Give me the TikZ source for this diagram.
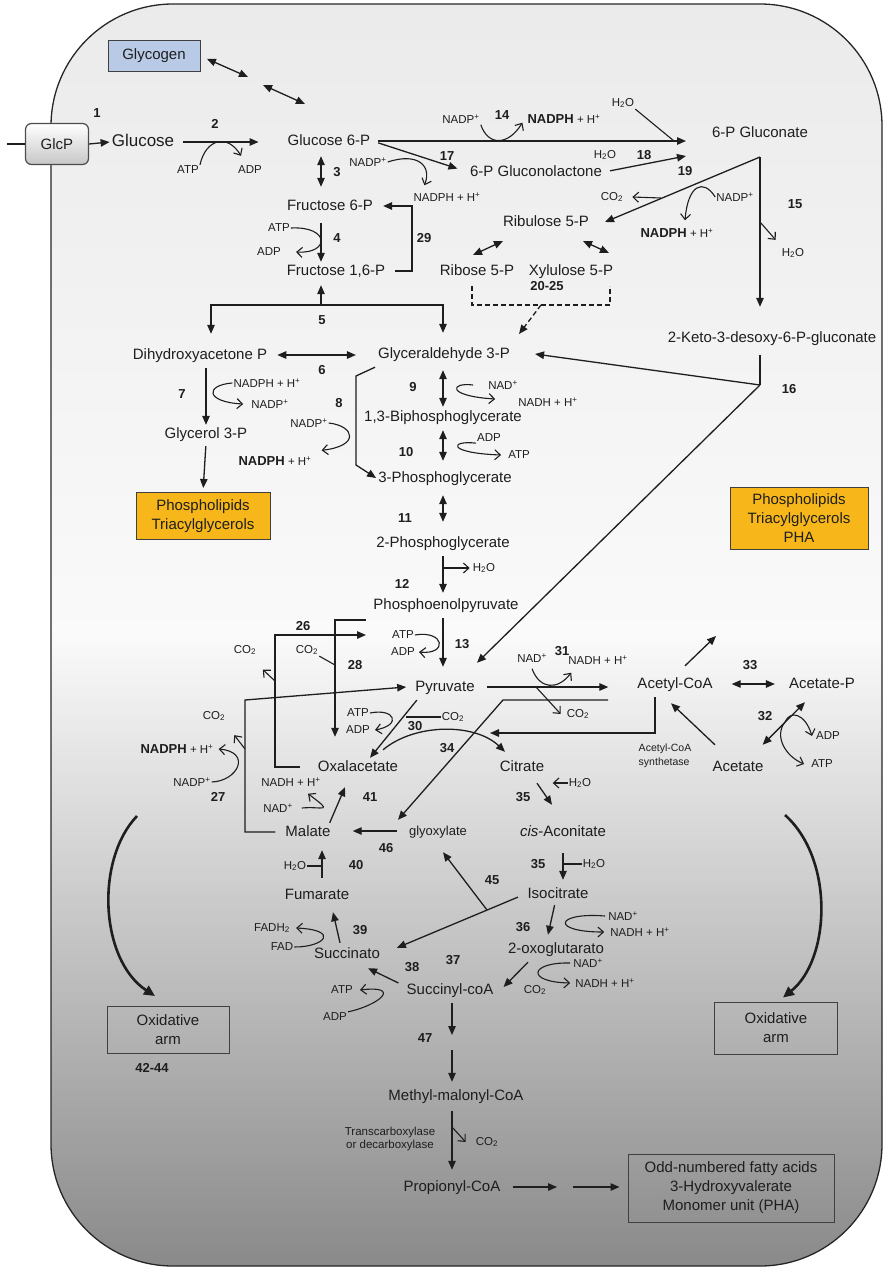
\documentclass[tikz,border=0pt]{standalone}
\usepackage{fontspec}
\setmainfont{Liberation Sans}
\usetikzlibrary{arrows.meta}
\definecolor{lipid}{HTML}{F7B71B}
\definecolor{glyco}{HTML}{B8CAE6}
\definecolor{ink}{HTML}{1E1E1E}
\newcommand{\nadphb}{{\bfseries\fontsize{13}{15}\selectfont NADPH} + H\textsuperscript{+}}
\tikzset{
  met/.style={font=\fontsize{15}{17}\selectfont, text height=11pt, text depth=3pt, inner sep=2pt},
  cof/.style={font=\fontsize{11.5}{13}\selectfont, inner sep=1pt},
  num/.style={font=\bfseries\fontsize{13}{15}\selectfont, inner sep=1pt},
  prod/.style={draw=black!75, line width=1pt, inner sep=2pt, align=center, font=\fontsize{15}{19}\selectfont},
  glcpbox/.style={draw=black!70, line width=1.2pt, rounded corners=6pt, top color=white, bottom color=black!22, minimum width=63pt, minimum height=41pt, font=\fontsize{15}{17}\selectfont},
  rx/.style={draw=ink, line width=1.3pt, -{Triangle[length=9pt,width=7.5pt]}},
  rxx/.style={draw=ink, line width=1.3pt, {Triangle[length=9pt,width=7.5pt]}-{Triangle[length=9pt,width=7.5pt]}},
  co/.style={draw=ink, line width=1.1pt, -{Straight Barb[length=5.5pt,width=10pt]}},
  ln/.style={draw=ink, line width=1.1pt},
  oxarrow/.style={draw=ink, line width=2.6pt, -{Triangle[length=11pt,width=10pt]}}
}
\begin{document}
\begin{tikzpicture}[x=1pt, y=-1pt, every node/.append style={text=ink}]
\useasboundingbox (0,0) rectangle (885,1269);
\draw[line width=1.3pt, draw=black!85, rounded corners=122pt, top color=black!8, bottom color=black!46, middle color=black!2] (51,4) rectangle (882,1266);

% metabolites
\node[glcpbox] (glcp) at (57,144) {GlcP};
\node[prod, fill=glyco, minimum width=92pt, minimum height=31pt] (glycogen) at (154,56) {Glycogen};
\node[met, font=\fontsize{17}{19}\selectfont] (glc) at (143,142) {Glucose};
\node[met] (g6p) at (329,141) {Glucose 6-P};
\node[met] (f6p) at (330,206) {Fructose 6-P};
\node[met] (fbp) at (336,271) {Fructose 1,6-P};
\node[met] (gln) at (536,172) {6-P Gluconolactone};
\node[met] (pgn) at (760,133) {6-P Gluconate};
\node[met] (ru5p) at (546,222) {Ribulose 5-P};
\node[met] (r5p) at (477,271) {Ribose 5-P};
\node[met] (x5p) at (571,271) {Xylulose 5-P};
\node[met] (kdpg) at (772,338) {2-Keto-3-desoxy-6-P-gluconate};
\node[met] (dhap) at (200,355) {Dihydroxyacetone P};
\node[met] (gap) at (444,354) {Glyceraldehyde 3-P};
\node[met] (gro) at (206,434) {Glycerol 3-P};
\node[met] (bpg) at (443,417) {1,3-Biphosphoglycerate};
\node[met] (pga3) at (445,478) {3-Phosphoglycerate};
\node[met] (pga2) at (443,543) {2-Phosphoglycerate};
\node[met] (pep) at (446,605) {Phosphoenolpyruvate};
\node[met] (pyr) at (445,687) {Pyruvate};
\node[met] (accoa) at (675,684) {Acetyl-CoA};
\node[met] (acp) at (822,684) {Acetate-P};
\node[met] (ace) at (738,767) {Acetate};
\node[met] (oaa) at (358,767) {Oxalacetate};
\node[met] (cit) at (522,767) {Citrate};
\node[met] (mal) at (308,832) {Malate};
\node[met, font=\fontsize{13}{15}\selectfont] (glx) at (438,831) {glyoxylate};
\node[met] (cis) at (563,832) {\textit{cis}-Aconitate};
\node[met] (fum) at (317,895) {Fumarate};
\node[met] (icit) at (558,894) {Isocitrate};
\node[met] (suc) at (347,954) {Succinato};
\node[met] (akg) at (556,949) {2-oxoglutarato};
\node[met] (scoa) at (450,990) {Succinyl-coA};
\node[met] (mmcoa) at (456,1096) {Methyl-malonyl-CoA};
\node[met] (ppcoa) at (452,1187) {Propionyl-CoA};

\node[prod, fill=lipid, minimum width=134pt, minimum height=47pt] (lipa) at (203,516) {Phospholipids\\Triacylglycerols};
\node[prod, fill=lipid, minimum width=138pt, minimum height=62pt] (lipb) at (799,518) {Phospholipids\\Triacylglycerols\\PHA};
\node[prod, minimum width=122pt, minimum height=47pt] (oxl) at (168,1030) {Oxidative\\arm};
\node[prod, minimum width=123pt, minimum height=52pt] (oxr) at (776,1028) {Oxidative\\arm};
\node[prod, minimum width=206pt, minimum height=68pt] (odd) at (731,1188) {Odd-numbered fatty acids\\3-Hydroxyvalerate\\Monomer unit (PHA)};

% cofactors
\node[cof] (atp2) at (188,170) {ATP};
\node[cof] (adp2) at (250,170) {ADP};
\node[cof] (atp4) at (279,228) {ATP};
\node[cof] (adp4) at (269,252) {ADP};
\node[cof] (nadp17) at (368,162) {NADP\textsuperscript{+}};
\node[cof] (nadph17) at (447,197) {NADPH + H\textsuperscript{+}};
\node[cof] (nadp14) at (461,119) {NADP\textsuperscript{+}};
\node[cof] (nadph14) at (564,119) {\nadphb};
\node[cof] (h2o14) at (623,103) {H\textsubscript{2}O};
\node[cof] (h2o18) at (605,155) {H\textsubscript{2}O};
\node[cof] (co2a) at (612,197) {CO\textsubscript{2}};
\node[cof] (nadp19) at (735,197) {NADP\textsuperscript{+}};
\node[cof] (nadph19) at (677,233) {\nadphb};
\node[cof] (h2o15) at (793,253) {H\textsubscript{2}O};
\node[cof] (nadph7) at (267,383) {NADPH + H\textsuperscript{+}};
\node[cof] (nadp7) at (270,404) {NADP\textsuperscript{+}};
\node[cof] (nadp8) at (309,423) {NADP\textsuperscript{+}};
\node[cof] (nadph8) at (275,461) {\nadphb};
\node[cof] (nad9) at (503,385) {NAD\textsuperscript{+}};
\node[cof] (nadh9) at (548,402) {NADH + H\textsuperscript{+}};
\node[cof] (adp10) at (489,438) {ADP};
\node[cof] (atp10) at (519,455) {ATP};
\node[cof] (h2o12) at (484,568) {H\textsubscript{2}O};
\node[cof] (atp13) at (403,635) {ATP};
\node[cof] (adp13) at (403,652) {ADP};
\node[cof] (co2b) at (245,650) {CO\textsubscript{2}};
\node[cof] (co2c) at (307,650) {CO\textsubscript{2}};
\node[cof] (co2d) at (214,716) {CO\textsubscript{2}};
\node[cof] (nadph27) at (177,749) {\nadphb};
\node[cof] (nadp27) at (192,782) {NADP\textsuperscript{+}};
\node[cof] (atp30) at (358,713) {ATP};
\node[cof] (adp30) at (358,730) {ADP};
\node[cof] (co2e) at (453,717) {CO\textsubscript{2}};
\node[cof] (nad31) at (532,658) {NAD\textsuperscript{+}};
\node[cof] (nadh31) at (598,660) {NADH + H\textsuperscript{+}};
\node[cof] (co2f) at (578,714) {CO\textsubscript{2}};
\node[cof] (adp32) at (828,736) {ADP};
\node[cof] (atp32) at (822,764) {ATP};
\node[cof] (nadh41) at (291,782) {NADH + H\textsuperscript{+}};
\node[cof] (nad41) at (278,808) {NAD\textsuperscript{+}};
\node[cof] (h2o35a) at (580,783) {H\textsubscript{2}O};
\node[cof] (h2o35b) at (594,864) {H\textsubscript{2}O};
\node[cof] (h2o40) at (295,866) {H\textsubscript{2}O};
\node[cof] (fadh) at (272,928) {FADH\textsubscript{2}};
\node[cof] (fad) at (282,947) {FAD};
\node[cof] (nad36) at (623,916) {NAD\textsuperscript{+}};
\node[cof] (nadh36) at (640,932) {NADH + H\textsuperscript{+}};
\node[cof] (nad37) at (588,963) {NAD\textsuperscript{+}};
\node[cof] (nadh37) at (605,983) {NADH + H\textsuperscript{+}};
\node[cof] (co2g) at (535,990) {CO\textsubscript{2}};
\node[cof] (atp38) at (342,990) {ATP};
\node[cof] (adp38) at (335,1017) {ADP};
\node[cof] (co2h) at (487,1142) {CO\textsubscript{2}};
\node[cof, align=center] (tcx) at (390,1139) {Transcarboxylase\\or decarboxylase};
\node[cof, font=\fontsize{10.5}{14}\selectfont, align=left] (acs) at (665,756) {Acetyl-CoA\\synthetase};

% reaction numbers
\foreach \t/\x/\y [count=\i] in {1/97/113, 2/215/124, 3/337/172, 4/337/238, 5/322/320, 6/322/370,
  7/182/394, 8/339/403, 9/413/387, 10/406/452, 11/405/518, 12/402/584, 13/462/644, 14/502/115,
  15/795/204, 16/789/389, 17/447/156, 18/644/155, 19/685/171, 20-25/547/286, 26/303/626,
  27/218/797, 28/355/665, 29/424/238, 30/415/726, 31/562/651, 32/765/716, 33/750/665,
  34/447/748, 35/523/797, 35/538/864, 36/523/927, 37/453/960, 38/412/967, 39/360/930,
  40/356/865, 41/370/797, 42-44/152/1068, 45/492/880, 46/386/848, 47/425/1038}
  \node[num] (num\i) at (\x,\y) {\t};

% junctions and free ends
\coordinate (cin) at (7,144);
\coordinate (gy1) at (248,77);
\coordinate (gy2) at (263,85);
\coordinate (gy3) at (305,104);
\coordinate (c29) at (412,240);
\coordinate (t14) at (686,141);
\coordinate (t18) at (686,156);
\coordinate (j19) at (760,157);
\coordinate (t19) at (605,222);
\coordinate (c19) at (661,198);
\coordinate (j15) at (760,222);
\coordinate (p1) at (473,255);
\coordinate (p2) at (503,241);
\coordinate (p3) at (583,241);
\coordinate (p4) at (609,253);
\coordinate (d1) at (472,286);
\coordinate (d2) at (610,286);
\coordinate (d3) at (541,305);
\coordinate (t20) at (519,334);
\coordinate (j16) at (760,385);
\coordinate (j5) at (321,305);
\coordinate (b8) at (356,376);
\coordinate (b8b) at (356,465);
\coordinate (c26) at (275,635);
\coordinate (t26) at (366,635);
\coordinate (c26b) at (275,681);
\coordinate (c28) at (366,620);
\coordinate (c28b) at (335,665);
\coordinate (c27) at (245,700);
\coordinate (c27b) at (245,749);
\coordinate (c30) at (406,717);
\coordinate (c31) at (536,687);
\coordinate (c46a) at (608,700);
\coordinate (c46b) at (503,700);
\coordinate (t34) at (490,733);
\coordinate (t35) at (716,636);
\coordinate (c32) at (785,722);
\coordinate (c40) at (322,866);
\coordinate (j45) at (487,910);
\coordinate (c47) at (452,1043);
\coordinate (c48) at (452,1127);
\coordinate (c49) at (565,1187);
\coordinate (oxa) at (137,816);
\coordinate (oxb) at (785,815);

% uptake, glycogen
\draw[ln, line width=1.2pt] (cin) -- (glcp.west);
\draw[rx] (glcp.east) -- (glc.west);
\draw[rxx, shorten <=7pt] (glycogen.east) -- (gy1);
\draw[rxx] (gy2) -- (gy3);

% upper glycolysis
\draw[rx, shorten <=7pt, shorten >=27pt] (glc.east) -- (glc.east -| g6p.west);
\draw[co] (atp2.north east) .. controls (206,138) and (228,134) .. ([shift={(-9pt,9pt)}]adp2.north);
\draw[rxx, shorten <=6pt, shorten >=10pt] ([xshift=-8pt]g6p.south) -- ([xshift=-9pt]f6p.north);
\draw[rx, shorten <=8pt] ([xshift=-9pt]f6p.south) -- ([xshift=-15pt]fbp.north);
\draw[co] (atp4.east) .. controls (330,226) and (330,254) .. ([xshift=14pt]adp4.east);
\draw[rx, shorten <=8pt, shorten >=8pt] (fbp.east) -| (c29) |- (f6p.east);

% pentose phosphate and Entner-Doudoroff
\draw[rx, shorten <=6pt, shorten >=11pt] (g6p.east) -- (gln.west);
\draw[co] (nadp17.east) .. controls (418,152) and (432,166) .. ([shift={(12pt,6pt)}]nadph17.north west);
\draw[rx, shorten <=6pt] (g6p.east) -- (t14);
\draw[ln] (h2o14.south east) -- ([xshift=-12pt]t14);
\draw[co] (nadp14.south east) .. controls (488,146) and (508,146) .. ([shift={(-4pt,2pt)}]nadph14.south west);
\draw[rx, shorten <=6pt] (gln.east) -- (t18);
\draw[rx, shorten >=22pt] (j19) -- (j19 |- kdpg.north);
\draw[rx] (j19) -- (t19);
\draw[co] (c19) -- ([xshift=8pt]co2a.east);
\draw[co] (nadp19.west) .. controls (703,178) and (688,185) .. ([shift={(8pt,7pt)}]nadph19.north);
\draw[co] (j15) -- ([shift={(-5pt,7pt)}]h2o15.north west);
\draw[rxx] (p1) -- (p2);
\draw[rxx] (p3) -- (p4);
\draw[ln, dash pattern=on 5pt off 3pt] (d1) |- (d3) -| (d2);
\draw[rx, dash pattern=on 5pt off 3pt] (d3) -- (t20);
\draw[ln, line width=1.3pt, shorten <=8pt] ([xshift=-12pt]kdpg.south) -- (j16);
\draw[rx] (j16) -- ([xshift=23pt]gap.east);
\draw[rx] (j16) -- ([shift={(32pt,15pt)}]pyr.north);

% triose phosphates
\draw[rx, shorten >=12pt] (j5) -| ([xshift=11pt]dhap.north);
\draw[rx, shorten >=12pt] (j5) -| ([xshift=-1pt]gap.north);
\draw[rx, shorten >=5pt] (j5) -- ([xshift=-15pt]fbp.south);
\draw[rxx, shorten <=8pt, shorten >=20pt] (dhap.east) -- (dhap.east -| gap.west);
\draw[rx, shorten <=4pt] ([xshift=6pt]dhap.south) -- (gro.north);
\draw[co] (nadph7.west) .. controls (205,385) and (205,402) .. ([xshift=-7pt]nadp7.west);
\draw[rx, shorten <=3pt, shorten >=4pt] (gro.south) -- (lipa.north);
\draw[rx] ([shift={(-69pt,-4pt)}]gap.south) -- (b8) -- (b8b) -- (pga3.west);
\draw[co] (nadp8.east) .. controls (355,426) and (360,446) .. ([shift={(9pt,5pt)}]nadph8.north east);

% lower glycolysis
\draw[rxx, shorten <=7pt, shorten >=1pt] ([xshift=-1pt]gap.south) -- (bpg.north);
\draw[co] ([xshift=-14pt]nad9.west) .. controls (450,382) and (446,396) .. ([shift={(-22pt,3pt)}]nadh9.west);
\draw[rxx, shorten <=4pt, shorten >=8pt] (bpg.south) -- ([xshift=-2pt]pga3.north);
\draw[co] (adp10.south west) .. controls (450,440) and (446,453) .. ([xshift=-6pt]atp10.west);
\draw[rxx, shorten <=8pt, shorten >=12pt] ([xshift=-2pt]pga3.south) -- (pga2.north);
\draw[rx, shorten <=4pt, shorten >=3pt] (pga2.south) -- ([xshift=-3pt]pep.north);
\draw[co] (pga2.south |- h2o12.west) -- ([xshift=-2pt]h2o12.west);
\draw[rx, shorten <=4pt, shorten >=11pt] ([xshift=-3pt]pep.south) -- ([xshift=-2pt]pyr.north);
\draw[co] (atp13.east) .. controls (445,630) and (448,655) .. ([xshift=3pt]adp13.east);

% anaplerotic reactions
\draw[rx] ([xshift=-16pt]oaa.west) -| (c26) -- (t26);
\draw[co] (c26b) -- ([shift={(5.5pt,-13.5pt)}]co2b.south east);
\draw[rx, shorten >=21pt] (c28) -| ([xshift=-23pt]oaa.north);
\draw[ln] (co2c.south east) -- (c28b);
\draw[rx, shorten <=8pt] (mal.west) -| (c27) -- ([xshift=-7pt]pyr.west);
\draw[co] (c27b) -- ([shift={(8pt,-13pt)}]co2d.south east);
\draw[co] (nadp27.east) .. controls (238,781) and (252,752) .. ([xshift=4pt]nadph27.east);
\draw[rx, shorten <=5pt] ([xshift=-25pt]pyr.south) -- ([xshift=12pt]oaa.north);
\draw[ln] (c30) -- (co2e.west);
\draw[co] (atp30.east) .. controls (395,708) and (402,725) .. ([xshift=4pt]adp30.east);
\draw[rx] ([shift={(25pt,8pt)}]oaa.north) .. controls (415,723) and (475,723) .. ([shift={(-17pt,6pt)}]cit.north);

% acetyl-CoA node
\draw[rx, shorten <=10pt, shorten >=27pt] (pyr.east) -- (pyr.east -| accoa.west);
\draw[co] ([yshift=-5pt]nad31.south) .. controls (540,690) and (558,690) .. ([shift={(4pt,-7pt)}]nadh31.south west);
\draw[co] (c31) -- ([xshift=-5pt]co2f.west);
\draw[rx] (c46a) -- (c46b) -- ([shift={(-40pt,2pt)}]glx.north);
\draw[rx, shorten <=4pt] ([xshift=-20pt]accoa.south) |- (t34);
\draw[rx] ([shift={(10pt,9pt)}]accoa.north) -- (t35);
\draw[rxx, shorten <=17pt, shorten >=12pt] (accoa.east) -- (acp.west);
\draw[rx] ([shift={(-23pt,13pt)}]ace.north) -- ([shift={(-4pt,-10pt)}]accoa.south);
\draw[rxx] ([shift={(-3pt,13pt)}]ace.north east) -- ([shift={(-17pt,-9pt)}]acp.south);
\draw[co] (c32) .. controls (790,710) and (805,713) .. ([xshift=-3pt]adp32.west);
\draw[co] (c32) .. controls (774,736) and (785,756) .. ([xshift=-6pt]atp32.west);

% TCA cycle and glyoxylate shunt
\draw[rx] ([shift={(15pt,-7pt)}]cit.south) -- ([shift={(-11pt,18pt)}]cis.north);
\draw[co] (h2o35a.west) -- ([xshift=-15pt]h2o35a.west);
\draw[rx, shorten <=12pt, shorten >=5pt] (cis.south) -- (cis.south |- icit.north);
\draw[ln] (cis.south |- h2o35b.west) -- (h2o35b.west);
\draw[rx, shorten <=2pt] ([xshift=-3pt]icit.south) -- ([shift={(-8pt,5pt)}]akg.north);
\draw[co] ([xshift=-2pt]nad36.west) .. controls (555,912) and (550,932) .. ([xshift=-5pt]nadh36.west);
\draw[rx] ([shift={(-28pt,-4pt)}]akg.south) -- ([shift={(8pt,3pt)}]scoa.east);
\draw[co] ([xshift=-2pt]nad37.west) .. controls (530,962) and (525,982) .. ([xshift=-4pt]nadh37.west);
\draw[rx] ([shift={(-6pt,7pt)}]scoa.west) -- ([shift={(21pt,-5pt)}]suc.south);
\draw[co] (adp38.north east) .. controls (380,1005) and (402,985) .. ([xshift=6pt]atp38.east);
\draw[rx] ([shift={(-7pt,2pt)}]suc.north) -- ([shift={(16pt,-8pt)}]fum.south);
\draw[co] (fad.east) .. controls (325,947) and (340,930) .. ([xshift=5pt]fadh.east);
\draw[rx, shorten <=8pt, shorten >=9pt] ([xshift=5pt]fum.north) -- ([xshift=14pt]mal.south);
\draw[ln] (h2o40.east) -- (c40);
\draw[rx] ([xshift=-3pt]mal.north east) -- ([shift={(-13pt,-11pt)}]oaa.south);
\draw[co] ([xshift=8pt]nad41.east) .. controls (322,806) and (335,814) .. ([shift={(17pt,-6pt)}]nadh41.south);
\draw[rx, shorten <=10pt, shorten >=20pt] (glx.west) -- (glx.west -| mal.east);
\draw[rx, shorten <=8pt, shorten >=16pt] (icit.west) -- (suc.east);
\draw[rx] (j45) -- ([shift={(5pt,-12pt)}]glx.south);

% propionate branch
\draw[rx, shorten <=4pt, shorten >=8pt] ([xshift=2pt]scoa.south) -- (c47);
\draw[rx, shorten <=7pt, shorten >=5pt] (c47) -- ([xshift=-4pt]mmcoa.north);
\draw[rx, shorten <=6pt, shorten >=8pt] ([xshift=-4pt]mmcoa.south) -- (ppcoa.north);
\draw[co] (c48) -- ([xshift=-9pt]co2h.west);
\draw[rx, shorten <=10pt, shorten >=8pt] (ppcoa.east) -- (c49);
\draw[rx, shorten <=8pt, shorten >=8pt] (c49) -- (c49 -| odd.west);

% oxidative arms
\draw[oxarrow] (oxa) .. controls (95,860) and (100,960) .. ([shift={(-13pt,10pt)}]oxl.north);
\draw[oxarrow] (oxb) .. controls (835,860) and (830,960) .. ([shift={(7pt,4pt)}]oxr.north);
\end{tikzpicture}
\end{document}
